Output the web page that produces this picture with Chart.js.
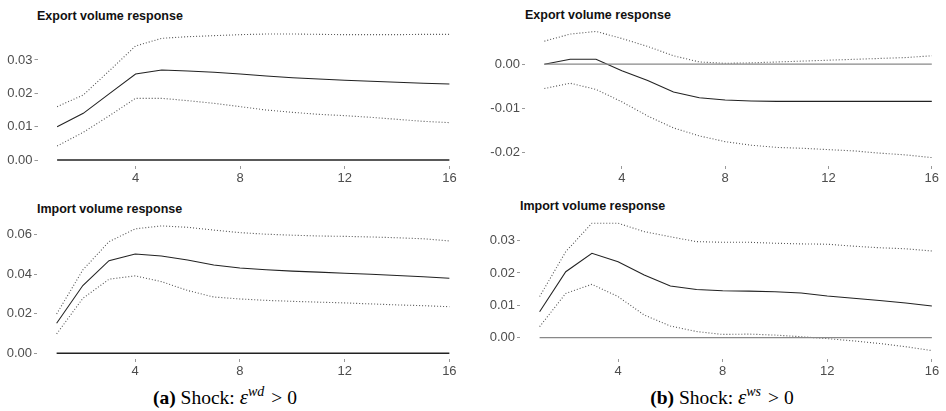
<!DOCTYPE html>
<html>
<head>
<meta charset="utf-8">
<script src="https://cdn.jsdelivr.net/npm/chart.js@4.4.1/dist/chart.umd.min.js"></script>
<style>
  html, body { margin: 0; padding: 0; background: #fff; overflow: hidden; }
  body { width: 946px; height: 411px; position: relative; }
  canvas { position: absolute; }
  .ttl { position: absolute; font: bold 12.5px "Liberation Sans", Arial, sans-serif; color: #111; line-height: 13px; white-space: nowrap; }
  .cap { position: absolute; font: 19.5px "Liberation Serif", "Times New Roman", serif; color: #000; line-height: 22px; white-space: nowrap; transform: translateX(-50%); }
  .cap .eps { font-style: italic; font-size: 21px; }
  .cap sup { font-style: italic; font-size: 14px; vertical-align: 8px; line-height: 0; }
  .cap .rel { margin: 0 5px 0 7px; }
</style>
</head>
<body>
<div class="ttl" style="left:37px; top:10px;">Export volume response</div>
<div class="ttl" style="left:525px; top:9px;">Export volume response</div>
<div class="ttl" style="left:37px; top:203px;">Import volume response</div>
<div class="ttl" style="left:520px; top:200px;">Import volume response</div>

<canvas id="c1" width="470" height="185" style="left:0; top:0;"></canvas>
<canvas id="c2" width="476" height="185" style="left:470px; top:0;"></canvas>
<canvas id="c3" width="470" height="195" style="left:0; top:185px;"></canvas>
<canvas id="c4" width="476" height="195" style="left:470px; top:185px;"></canvas>

<div class="cap" style="left:225px; top:386px;"><b>(a)</b> Shock: <span class="eps">ε</span><sup>wd</sup><span class="rel">&gt;</span>0</div>
<div class="cap" style="left:722px; top:386px;"><b>(b)</b> Shock: <span class="eps">ε</span><sup>ws</sup><span class="rel">&gt;</span>0</div>

<script>
const periods = [1, 2, 3, 4, 5, 6, 7, 8, 9, 10, 11, 12, 13, 14, 15, 16];
const xTicks = [4, 8, 12, 16];
const zeroLine = [0, 0, 0, 0, 0, 0, 0, 0, 0, 0, 0, 0, 0, 0, 0, 0];

// (a) shock wd
const expAMid = [0.0100, 0.0140, 0.0199, 0.0258, 0.0270, 0.0267, 0.0263, 0.0258, 0.0252, 0.0247, 0.0243, 0.0239, 0.0236, 0.0233, 0.0230, 0.0228];
const expAUp  = [0.0160, 0.0195, 0.0268, 0.0342, 0.0365, 0.0370, 0.0373, 0.0376, 0.0378, 0.0378, 0.0377, 0.0376, 0.0376, 0.0376, 0.0377, 0.0377];
const expALo  = [0.0042, 0.0083, 0.0133, 0.0185, 0.0185, 0.0178, 0.0170, 0.0160, 0.0150, 0.0143, 0.0137, 0.0133, 0.0128, 0.0122, 0.0116, 0.0112];
const impAMid = [0.0152, 0.0343, 0.0469, 0.0503, 0.0493, 0.0472, 0.0447, 0.0432, 0.0423, 0.0416, 0.0411, 0.0405, 0.0400, 0.0394, 0.0388, 0.0380];
const impAUp  = [0.0199, 0.0422, 0.0565, 0.0630, 0.0645, 0.0638, 0.0624, 0.0611, 0.0603, 0.0598, 0.0594, 0.0592, 0.0589, 0.0585, 0.0580, 0.0569];
const impALo  = [0.0098, 0.0278, 0.0375, 0.0392, 0.0363, 0.0318, 0.0285, 0.0275, 0.0268, 0.0263, 0.0259, 0.0255, 0.0250, 0.0245, 0.0241, 0.0236];

// (b) shock ws
const expBMid = [0.0000, 0.0011, 0.0011, -0.0015, -0.0037, -0.0063, -0.0076, -0.0081, -0.0083, -0.0084, -0.0084, -0.0084, -0.0084, -0.0084, -0.0084, -0.0084];
const expBUp  = [0.0052, 0.0068, 0.0074, 0.0058, 0.0040, 0.0019, 0.0005, 0.0002, 0.0003, 0.0005, 0.0007, 0.0009, 0.0011, 0.0013, 0.0015, 0.0019];
const expBLo  = [-0.0055, -0.0043, -0.0057, -0.0085, -0.0117, -0.0144, -0.0162, -0.0175, -0.0183, -0.0188, -0.0190, -0.0193, -0.0196, -0.0201, -0.0205, -0.0211];
const impBMid = [0.0080, 0.0204, 0.0261, 0.0235, 0.0194, 0.0160, 0.0149, 0.0145, 0.0144, 0.0142, 0.0138, 0.0129, 0.0122, 0.0115, 0.0107, 0.0098];
const impBUp  = [0.0127, 0.0266, 0.0354, 0.0354, 0.0328, 0.0312, 0.0297, 0.0295, 0.0295, 0.0292, 0.0290, 0.0289, 0.0283, 0.0278, 0.0275, 0.0268];
const impBLo  = [0.0034, 0.0137, 0.0165, 0.0127, 0.0070, 0.0036, 0.0019, 0.0010, 0.0011, 0.0008, 0.0003, -0.0003, -0.0010, -0.0018, -0.0028, -0.0040];

const yTicksExpA = [0, 0.01, 0.02, 0.03];
const yTicksImpA = [0, 0.02, 0.04, 0.06];
const yTicksExpB = [-0.02, -0.01, 0];
const yTicksImpB = [0, 0.01, 0.02, 0.03];

Chart.defaults.font.family = '"Liberation Sans", Arial, sans-serif';
Chart.defaults.font.size = 13;
Chart.defaults.color = '#4d4d4d';

function pts(arr) {
  return arr.map((v, i) => ({ x: periods[i], y: v }));
}

function makePanel(id, mid, up, lo, yTicks, o) {
  const band = {
    borderColor: '#555', borderWidth: 1.1, borderDash: [1, 2],
    pointRadius: 0, fill: false, tension: 0
  };
  new Chart(document.getElementById(id), {
    type: 'line',
    data: {
      datasets: [
        { data: pts(zeroLine), borderColor: o.zeroColor, borderWidth: 1.3, pointRadius: 0 },
        Object.assign({ data: pts(up) }, band),
        Object.assign({ data: pts(lo) }, band),
        { data: pts(mid), borderColor: '#222', borderWidth: 1.05, pointRadius: 0, tension: 0 }
      ]
    },
    options: {
      responsive: false,
      animation: false,
      layout: { padding: { top: o.top, right: o.right, left: 0, bottom: 0 } },
      plugins: { legend: { display: false }, tooltip: { enabled: false } },
      scales: {
        x: {
          type: 'linear', min: 0.25, max: o.xMax,
          afterBuildTicks: s => { s.ticks = xTicks.map(v => ({ value: v })); },
          afterFit: s => { s.height = o.xH; },
          ticks: { padding: 2, maxRotation: 0 },
          grid: { display: true, drawOnChartArea: false, drawTicks: true, tickLength: 3, color: '#999' },
          border: { display: false }
        },
        y: {
          min: o.yMin, max: o.yMax,
          afterBuildTicks: s => { s.ticks = yTicks.map(v => ({ value: v })); },
          afterFit: s => { s.width = o.yW; },
          ticks: { padding: 2, callback: v => v.toFixed(2) },
          grid: { display: true, drawOnChartArea: false, drawTicks: true, tickLength: 3, color: '#999' },
          border: { display: false }
        }
      }
    }
  });
}

makePanel('c1', expAMid, expAUp, expALo, yTicksExpA,
  { top: 27, right: 1, xH: 19, yW: 37.5, xMax: 16.75, yMin: -0.0018, yMax: 0.0399, zeroColor: '#222' });
makePanel('c2', expBMid, expBUp, expBLo, yTicksExpB,
  { top: 27, right: 0, xH: 19, yW: 55, xMax: 16.55, yMin: -0.0230, yMax: 0.0084, zeroColor: '#888' });
makePanel('c3', impAMid, impAUp, impALo, yTicksImpA,
  { top: 34, right: 1, xH: 21, yW: 37, xMax: 16.75, yMin: -0.0029, yMax: 0.0680, zeroColor: '#222' });
makePanel('c4', impBMid, impBUp, impBLo, yTicksImpB,
  { top: 34, right: 0, xH: 21, yW: 50, xMax: 16.54, yMin: -0.0066, yMax: 0.0367, zeroColor: '#888' });
</script>
</body>
</html>
